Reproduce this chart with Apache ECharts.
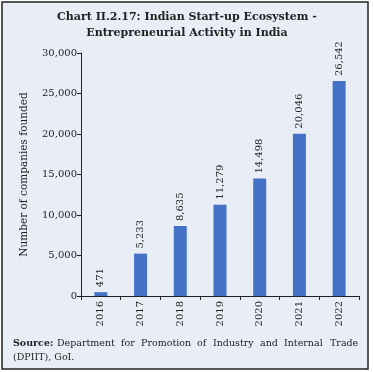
<!DOCTYPE html>
<html><head><meta charset="utf-8">
<script src="https://cdn.jsdelivr.net/npm/echarts@6/dist/echarts.min.js"></script>
<style>html,body{margin:0;padding:0;background:#fff}#c{width:373px;height:372px}</style>
</head><body><div id="c"></div>
<script>
const years = ['2016','2017','2018','2019','2020','2021','2022'];
const companies = [471, 5233, 8635, 11279, 14498, 20046, 26542];
const yTicks = [0, 5000, 10000, 15000, 20000, 25000, 30000];
const titleLines = ['Chart II.2.17: Indian Start-up Ecosystem -', 'Entrepreneurial Activity in India'];
const sourceWords = ['Department','for','Promotion','of','Industry','and','Internal','Trade'];
const sourceWordX = [57,121,141,197,213,260,284,330];

const F = 'DejaVu Serif';
const chart = echarts.init(document.getElementById('c'), null, {renderer:'canvas'});
const fmt = v => v.toLocaleString('en-US');

const graphics = [
  {type:'rect', z:-10, shape:{x:2,y:2,width:366,height:367}, style:{fill:'#e9eef6', stroke:'#222', lineWidth:1.5}},
  {type:'text', x:187, y:12, style:{text:titleLines[0], font:'bold 11px "'+F+'"', fill:'#222', align:'center'}},
  {type:'text', x:187, y:28, style:{text:titleLines[1], font:'bold 11px "'+F+'"', fill:'#222', align:'center'}},
  {type:'text', x:13, y:339, style:{text:'Source:', font:'bold 9.5px "'+F+'"', fill:'#222'}},
  {type:'text', x:13, y:353, style:{text:'(DPIIT), GoI.', font:'9.5px "'+F+'"', fill:'#222'}}
];
sourceWords.forEach((w,i)=>graphics.push({type:'text', x:sourceWordX[i], y:339, style:{text:w, font:'9.5px "'+F+'"', fill:'#222'}}));

chart.setOption({
  animation:false,
  backgroundColor:'#fff',
  graphic: graphics,
  grid:{left:81, right:14, top:53, bottom:76},
  xAxis:{type:'category', data:years,
    axisLine:{lineStyle:{color:'#222', width:1}},
    axisTick:{show:true, length:4, lineStyle:{color:'#222'}},
    axisLabel:{rotate:90, color:'#222', fontFamily:F, fontSize:10, margin:5}},
  yAxis:{type:'value', min:yTicks[0], max:yTicks[yTicks.length-1], interval:5000,
    name:'Number of companies founded', nameLocation:'middle', nameGap:51, nameRotate:90,
    nameTextStyle:{fontFamily:F, fontSize:10.5, color:'#222'},
    axisLine:{show:true, lineStyle:{color:'#222', width:1}},
    axisTick:{show:true, length:4, lineStyle:{color:'#222'}},
    splitLine:{show:false},
    axisLabel:{color:'#222', fontFamily:F, fontSize:10, margin:4, formatter:v=>fmt(v)}},
  series:[{type:'bar', data:companies, barWidth:13,
    itemStyle:{color:'#4472c4'},
    label:{show:true, position:'top', rotate:90, align:'left', verticalAlign:'middle', distance:5,
      color:'#222', fontFamily:F, fontSize:10, formatter:p=>fmt(p.value)}}]
});
</script></body></html>
